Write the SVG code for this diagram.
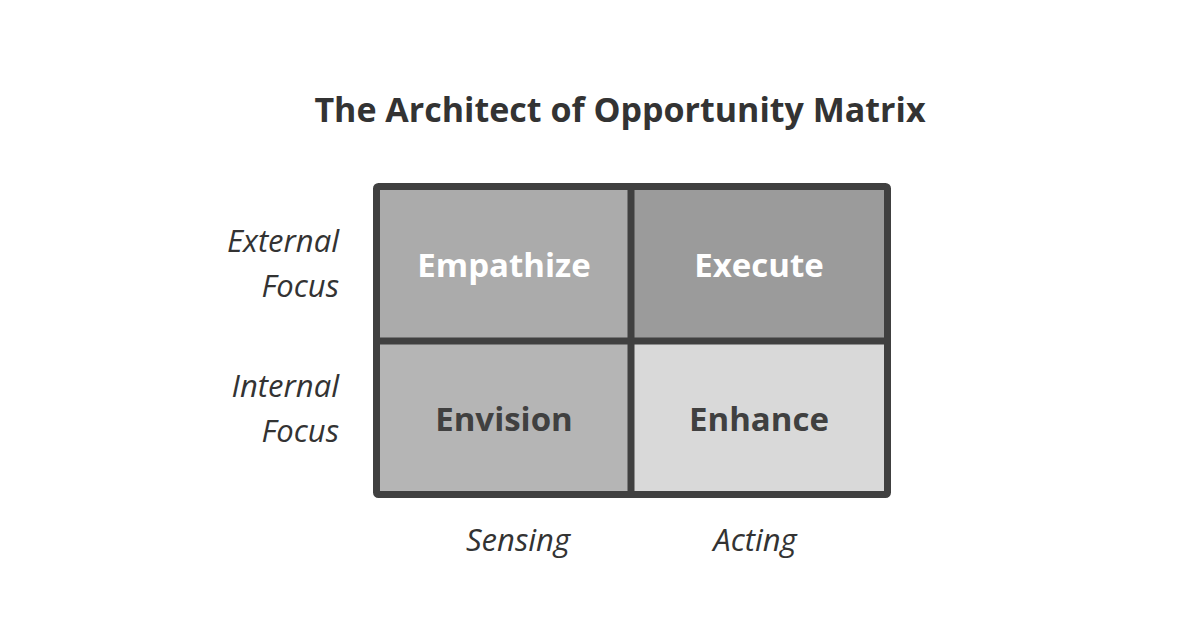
<svg xmlns="http://www.w3.org/2000/svg" width="1200" height="627" viewBox="0 0 1200 627">
<style>
text{font-family:"Open Sans","Liberation Sans",sans-serif}
.t{font-size:34px;font-weight:bold;fill:#333;text-anchor:middle}
.c{font-size:33px;font-weight:bold;text-anchor:middle}
.l{font-size:31px;font-style:italic;fill:#333}
.line{stroke:#404040;stroke-width:7;fill:none;stroke-linejoin:round}
</style>
<rect width="1200" height="627" fill="#fff"/>
<text class="t" x="620" y="122">The Architect of Opportunity Matrix</text>
<g id="empathize"><rect x="377" y="187" width="254" height="154" fill="#ababab"/><text class="c" x="504" y="277" fill="#fff">Empathize</text></g>
<g id="execute"><rect x="631" y="187" width="256" height="154" fill="#9b9b9b"/><text class="c" x="759" y="277" fill="#fff">Execute</text></g>
<g id="envision"><rect x="377" y="341" width="254" height="153" fill="#b5b5b5"/><text class="c" x="504" y="431" fill="#404040">Envision</text></g>
<g id="enhance"><rect x="631" y="341" width="256" height="153" fill="#d9d9d9"/><text class="c" x="759" y="431" fill="#404040">Enhance</text></g>
<g id="connectors">
<rect class="line" x="376.5" y="186.5" width="511" height="308" rx="2"/>
<line class="line" x1="631" y1="186" x2="631" y2="495"/>
<line class="line" x1="376" y1="341" x2="888" y2="341"/>
</g>
<g id="labels">
<text class="l" x="339" y="252" text-anchor="end">External</text>
<text class="l" x="339" y="297" text-anchor="end">Focus</text>
<text class="l" x="339" y="397" text-anchor="end">Internal</text>
<text class="l" x="339" y="442" text-anchor="end">Focus</text>
<text class="l" x="518" y="551" text-anchor="middle">Sensing</text>
<text class="l" x="755" y="551" text-anchor="middle">Acting</text>
</g>
</svg>
